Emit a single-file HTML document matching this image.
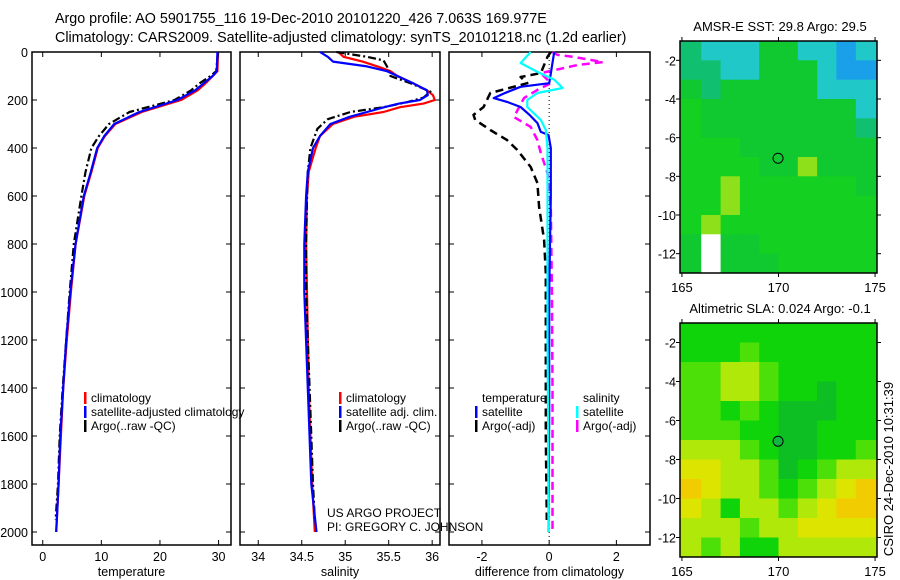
<!DOCTYPE html>
<html><head><meta charset="utf-8">
<style>
body{margin:0;background:#fff;}
svg{display:block;font-family:"Liberation Sans",sans-serif;}
text{fill:#000;}
</style></head>
<body>
<svg id="fig" width="900" height="580" viewBox="0 0 900 580">
<text x="55" y="23" font-size="14.3">Argo profile: AO 5901755_116 19-Dec-2010 20101220_426 7.063S 169.977E</text>
<text x="55" y="42" font-size="14.3">Climatology: CARS2009. Satellite-adjusted climatology: synTS_20101218.nc (1.2d earlier)</text>
<text x="327" y="517" font-size="12">US ARGO PROJECT</text>
<text x="327" y="531" font-size="12">PI: GREGORY C. JOHNSON</text>
<text transform="translate(893,469) rotate(-90)" font-size="13" text-anchor="middle">CSIRO 24-Dec-2010 10:31:39</text>
<g id="plots"></g>
</svg>
<script>
// ---------- profile data ----------
const yTicks=[0,200,400,600,800,1000,1200,1400,1600,1800,2000];
const tTicks=[0,10,20,30];
const sTicks=[34,34.5,35,35.5,36];
const dTicks=[-2,0,2];
const tempClimDepth=[0,80,100,130,160,200,250,300,350,400,500,600,800,1000,1200,1400,1600,1800,2000];
const tempClim=[29.9,29.8,29.0,27.8,26.4,23.6,16.9,12.4,10.6,9.4,8.3,7.1,5.6,4.8,4.1,3.5,3.1,2.7,2.3];
const tempSat=[29.8,29.7,29.0,27.5,26.0,23.0,16.5,12.2,10.5,9.3,8.2,7.0,5.6,4.7,4.0,3.5,3.0,2.7,2.3];
const tempArgoDepth=[0,80,100,130,160,200,250,300,350,400,500,600,800,1000,1200,1400,1600,1800,1950];
const tempArgo=[29.9,29.6,28.6,26.8,25.3,22.5,14.8,11.3,9.6,8.3,7.3,6.6,5.3,4.6,4.0,3.4,2.9,2.6,2.2];
const salDepth=[0,20,40,60,80,100,130,160,180,200,215,230,250,270,300,350,400,500,600,800,1000,1400,1800,2000];
const salClim=[34.92,34.98,35.2,35.37,35.52,35.6,35.78,35.94,36.01,36.03,35.9,35.63,35.44,35.1,34.86,34.71,34.66,34.58,34.56,34.55,34.56,34.58,34.62,34.65];
const salSat=[34.71,34.8,34.86,35.25,35.48,35.6,35.78,35.94,35.95,35.86,35.62,35.45,35.25,35.05,34.83,34.71,34.63,34.57,34.55,34.53,34.53,34.57,34.61,34.67];
const salArgoDepth=[0,20,35,60,100,130,165,190,210,230,250,280,320,400,500,600,800,1000,1400,1800,1950];
const salArgo=[34.9,35.25,35.44,35.48,35.52,35.75,35.98,35.9,35.7,35.44,35.06,34.8,34.68,34.6,34.57,34.56,34.55,34.55,34.59,34.63,34.65];
const dTempSatDepth=[0,90,130,145,170,192,208,229,260,296,333,346,400,600,1000,1500,2000];
const dTempSat=[0.15,0.05,0.0,-0.85,-1.3,-1.65,-1.25,-0.85,-0.6,-0.35,-0.25,-0.02,0.05,0.05,0.0,0.0,-0.02];
const dTempArgoDepth=[0,20,88,104,130,171,229,262,283,325,367,408,479,546,646,783,921,1200,1600,1950];
const dTempArgo=[0.05,-0.05,-0.25,-0.85,-0.65,-1.75,-1.95,-2.25,-2.2,-1.75,-1.25,-0.95,-0.55,-0.35,-0.3,-0.15,-0.1,-0.1,-0.1,-0.07];
const dSalSatDepth=[0,46,83,115,150,171,200,229,283,325,400,800,1200,1600,2000];
const dSalSat=[-0.55,-0.85,-0.35,0.15,0.4,-0.35,-0.65,-0.65,-0.25,-0.1,-0.05,-0.05,-0.05,-0.03,-0.02];
const dSalArgoDepth=[0,12,20,42,54,88,130,158,192,271,312,367,421,504,646,1000,1400,1800,2000];
const dSalArgo=[0.1,0.25,0.7,1.6,0.85,-0.25,0.05,-0.35,-0.75,-1.05,-0.55,-0.35,-0.25,-0.05,0.05,0.08,0.1,0.1,0.1];

// ---------- map data ----------
const mapLonTicks=[165,170,175];
const mapLatTicks=[-2,-4,-6,-8,-10,-12];
const sstPalette={t:"#10c070",b:"#20c8c8",c:"#1aa0e8",g:"#10c830",G:"#14d020",y:"#8ee01a",w:"#ffffff"};
const sstGrid=[
"tbbbggbbcb",
"ttbbgggbcc",
"gtgggggbbb",
"Gggggggggb",
"Gggggggggt",
"GGGggggggg",
"GGGGggyggg",
"GGyGGGGGGg",
"GGyGGGGGGG",
"GyGGGGGGGG",
"gwggGGGGGG",
"gwgggGGGGG"];
const slaPalette={g:"#0fd40a",d:"#0dbf22",l:"#4ddf08",y:"#b0e80a",Y:"#dde400",o:"#f0cc00"};
const slaGrid=[
"gggggggggg",
"ggglgggggg",
"llyylggggg",
"llyylggdgg",
"llglgdddgg",
"lllggddggg",
"yyylgddggl",
"YYyyldglyy",
"oYyylglyYo",
"YygyylyYoo",
"yyylyyYYYY",
"ylyggyyyyy"];
const argoLon=[169.977];
const argoLat=[-7.063];

const NS="http://www.w3.org/2000/svg";
const root=document.getElementById("plots");
function el(tag,attrs,parent){const e=document.createElementNS(NS,tag);for(const k in attrs)e.setAttribute(k,attrs[k]);(parent||root).appendChild(e);return e;}

const Y0=52,PB=545;
function yScale(d){return Y0+d*0.24;}
const panels=[
 {name:"temperature-panel",x0:32,x1:231,v0:-1.83,v1:32.12,ticks:tTicks,label:"temperature"},
 {name:"salinity-panel",x0:240,x1:440,v0:33.79,v1:36.09,ticks:sTicks,label:"salinity"},
 {name:"difference-panel",x0:449,x1:650,v0:-2.98,v1:3.0,ticks:dTicks,label:"difference from climatology"}];
function xs(p){return v=>p.x0+(v-p.v0)/(p.v1-p.v0)*(p.x1-p.x0);}

panels.forEach((p,i)=>{
  const g=el("g",{});
  
  
  const f=xs(p);
  const r=el("rect",{x:p.x0,y:Y0,width:p.x1-p.x0,height:PB-Y0,fill:"none",stroke:"#000","stroke-width":1.5},g);
  
  
  yTicks.forEach(t=>{
    const y=yScale(t);
    if(y>Y0+1){
      el("line",{x1:p.x0,x2:p.x0+5,y1:y,y2:y,stroke:"#000"},g);
      el("line",{x1:p.x1,x2:p.x1-5,y1:y,y2:y,stroke:"#000"},g);
    }
    if(i===0){
      const tx=el("text",{x:28,y:y+5,"font-size":12.5,"text-anchor":"end"},g);
      tx.textContent=t;
      
      
    }
  });
  p.ticks.forEach(t=>{
    const x=f(t);
    el("line",{x1:x,x2:x,y1:PB,y2:PB-5,stroke:"#000"},g);
    el("line",{x1:x,x2:x,y1:Y0,y2:Y0+5,stroke:"#000"},g);
    const tx=el("text",{x:x,y:561,"font-size":12.5,"text-anchor":"middle"},g);
    tx.textContent=t;
    
    
  });
  const lb=el("text",{x:(p.x0+p.x1)/2,y:576,"font-size":12.5,"text-anchor":"middle"},g);
  lb.textContent=p.label;
  
  
  p.g=g;p.f=f;
});

function series(p,depths,vals,color,dash,name,w){
  const pts=depths.map((d,k)=>p.f(vals[k]).toFixed(1)+","+yScale(d).toFixed(1)).join(" ");
  const l=el("polyline",{points:pts,fill:"none",stroke:color,"stroke-width":w||2.2,"stroke-dasharray":dash||"none","stroke-linejoin":"round"},p.g);
  
  
}
const zl=el("line",{x1:panels[2].f(0),x2:panels[2].f(0),y1:Y0,y2:PB,stroke:"#000","stroke-dasharray":"1,3"},panels[2].g);



series(panels[0],tempClimDepth,tempClim,"#f00","", "temp-climatology-line");
series(panels[0],tempArgoDepth,tempArgo,"#000","8,3,2,3","temp-argo-line");
series(panels[0],tempClimDepth,tempSat,"#00f","", "temp-satellite-line");
series(panels[1],salDepth,salClim,"#f00","", "sal-climatology-line");
series(panels[1],salArgoDepth,salArgo,"#000","8,3,2,3","sal-argo-line");
series(panels[1],salDepth,salSat,"#00f","", "sal-satellite-line");
series(panels[2],dTempArgoDepth,dTempArgo,"#000","8,5","diff-temp-argo-line",2.5);
series(panels[2],dSalArgoDepth,dSalArgo,"#f0f","8,5","diff-sal-argo-line",2.5);
series(panels[2],dTempSatDepth,dTempSat,"#00f","", "diff-temp-satellite-line");
series(panels[2],dSalSatDepth,dSalSat,"#0ff","", "diff-sal-satellite-line");

function legend(g,x,y,color,text,name){
  const b=el("rect",{x:x,y:y-10,width:2.5,height:12,fill:color},g);
  
  
  const t=el("text",{x:x+7,y:y,"font-size":12},g);
  t.textContent=text;
  
  
}
legend(panels[0].g,84,402,"#f00","climatology","legend-climatology");
legend(panels[0].g,84,416,"#00f","satellite-adjusted climatology","legend-satellite-adjusted");
legend(panels[0].g,84,430,"#000","Argo(..raw -QC)","legend-argo");
legend(panels[1].g,339,402,"#f00","climatology","legend-climatology");
legend(panels[1].g,339,416,"#00f","satellite adj. clim.","legend-satellite-adjusted");
legend(panels[1].g,339,430,"#000","Argo(..raw -QC)","legend-argo");
const lt=el("text",{x:482,y:402,"font-size":12},panels[2].g);lt.textContent="temperature";


const ls=el("text",{x:583,y:402,"font-size":12},panels[2].g);ls.textContent="salinity";


legend(panels[2].g,475,416,"#00f","satellite","legend-temp-satellite");
legend(panels[2].g,475,430,"#000","Argo(-adj)","legend-temp-argo");
legend(panels[2].g,576,416,"#0ff","satellite","legend-sal-satellite");
legend(panels[2].g,576,430,"#f0f","Argo(-adj)","legend-sal-argo");

// ---------- maps ----------
function drawMap(name,top,bottom,grid,pal,title,circleFill){
  const g=el("g",{});
  
  
  const L=680,R=877;
  const lx=lon=>L+(lon-164.9)/(175.1-164.9)*(R-L);
  const ly=lat=>top+(-1-lat)/12*(bottom-top);
  const rows=grid.length,cols=grid[0].length;
  for(let r=0;r<rows;r++)for(let c=0;c<cols;c++){
    const lon0=165+c*(10/cols),lat0=-1-r*(12/rows);
    const x=lx(lon0),y=ly(lat0);
    const cell=el("rect",{x:(c===0?L:x).toFixed(1),y:y.toFixed(1),width:(lx(lon0+10/cols)-(c===0?L:x)+(c===cols-1?R-lx(175):0)+0.5).toFixed(1),height:(ly(lat0-12/rows)-y+0.5).toFixed(1),fill:pal[grid[r][c]]},g);
    
    
  }
  const fr=el("rect",{x:L,y:top,width:R-L,height:bottom-top,fill:"none",stroke:"#000","stroke-width":1.5},g);
  
  
  mapLatTicks.forEach(t=>{
    const y=ly(t);
    el("line",{x1:L,x2:L-4,y1:y,y2:y,stroke:"#000"},g);
    el("line",{x1:R,x2:R+4,y1:y,y2:y,stroke:"#000"},g);
    const tx=el("text",{x:676,y:y+5,"font-size":12.5,"text-anchor":"end"},g);
    tx.textContent=t;
    
    
  });
  mapLonTicks.forEach(t=>{
    const x=lx(t);
    el("line",{x1:x,x2:x,y1:top,y2:top-4,stroke:"#000"},g);
    el("line",{x1:x,x2:x,y1:bottom,y2:bottom+4,stroke:"#000"},g);
    const tx=el("text",{x:x,y:bottom+19,"font-size":13,"text-anchor":"middle"},g);
    tx.textContent=t;
    
    
  });
  const tt=el("text",{x:780,y:top-10,"font-size":13,"text-anchor":"middle"},g);
  tt.textContent=title;
  
  
  const ci=el("circle",{cx:lx(argoLon[0]),cy:ly(argoLat[0]),r:5,fill:circleFill,stroke:"#000","stroke-width":1},g);
  
  
}
drawMap("sst-map",41,273,sstGrid,sstPalette,"AMSR-E SST: 29.8 Argo: 29.5","none");
drawMap("sla-map",323,557,slaGrid,slaPalette,"Altimetric SLA: 0.024 Argo: -0.1","#10b840");
</script>
</body></html>
